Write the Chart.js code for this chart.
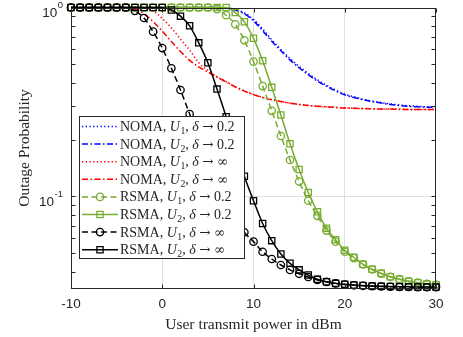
<!DOCTYPE html>
<html><head><meta charset="utf-8">
<script src="https://cdn.jsdelivr.net/npm/chart.js@4.4.1/dist/chart.umd.min.js"></script>
<style>html,body{margin:0;padding:0;background:#fff;}#wrap{width:463px;height:337px;}</style>
</head><body><div id="wrap"><canvas id="c" width="463" height="337"></canvas></div>
<script>
// ---------- data ----------
const powerDbm = [-10,-9,-8,-7,-6,-5,-4,-3,-2,-1,0,1,2,3,4,5,6,7,8,9,10,11,12,13,14,15,16,17,18,19,20,21,22,23,24,25,26,27,28,29,30];

const nomaU1Delta02 = [1,1,1,1,1,1,1,1,1,1,1,1,1,1,1,1,1,
  0.995,0.978,0.935,0.865,0.77,0.675,0.6,0.537,0.488,0.448,0.414,0.388,0.366,0.348,0.337,0.327,0.32,0.314,0.309,0.305,0.302,0.3,0.298,0.297];
const nomaU2Delta02 = [1,1,1,1,1,1,1,1,1,1,1,1,1,1,1,1,1,
  0.99,0.97,0.925,0.85,0.755,0.662,0.59,0.528,0.48,0.441,0.408,0.383,0.362,0.345,0.334,0.325,0.318,0.312,0.307,0.303,0.3,0.298,0.297,0.296];
const nomaU1Inf = [1,1,1,1,1,1,1,1,
  0.995,0.96,0.875,0.78,0.68,0.595,0.51,0.465,0.43,0.405,0.381,0.362,0.347,0.335,0.326,0.318,0.312,0.307,0.303,0.3,0.298,0.296,0.294,0.293,0.292,0.291,0.29,0.29,0.29,0.289,0.289,0.289,0.289];
const nomaU2Inf = [1,1,1,1,1,1,1,
  0.975,0.925,0.84,0.75,0.66,0.585,0.525,0.485,0.455,0.428,0.404,0.38,0.361,0.346,0.334,0.325,0.318,0.312,0.307,0.303,0.3,0.298,0.296,0.294,0.293,0.292,0.291,0.29,0.29,0.289,0.289,0.289,0.289,0.289];
const rsmaU1Delta02 = [1,1,1,1,1,1,1,1,1,1,1,1,1,1,1,1,
  0.98,0.91,0.815,0.67,0.517,0.384,0.284,0.209,0.156,0.12,0.095,0.079,0.066,0.0577,0.051,0.0472,0.0437,0.0411,0.0391,0.0376,0.0365,0.0356,0.035,0.0345,0.0341];
const rsmaU2Delta02 = [1,1,1,1,1,1,1,1,1,1,1,1,1,1,1,1,1,1,
  0.94,0.84,0.687,0.523,0.378,0.27,0.19,0.139,0.105,0.083,0.068,0.059,0.052,0.0477,0.0438,0.0412,0.0392,0.0376,0.0365,0.0356,0.035,0.0344,0.0341];
const rsmaU1Inf = [1,1,1,1,1,1,1,
  0.96,0.88,0.745,0.61,0.477,0.366,0.273,0.205,0.155,0.1205,0.0957,0.0778,0.0647,0.0577,0.051,0.0467,0.0434,0.0409,0.039,0.0375,0.0362,0.0353,0.0347,0.0342,0.0339,0.0337,0.0335,0.0334,0.0333,0.0332,0.0332,0.0331,0.0331,0.0331];
const rsmaU2Inf = [1,1,1,1,1,1,1,1,1,1,1,
  0.97,0.9,0.8,0.65,0.51,0.37,0.264,0.183,0.128,0.095,0.072,0.0584,0.0496,0.0443,0.0409,0.0384,0.0365,0.0354,0.0347,0.0343,0.034,0.0338,0.0336,0.0335,0.0334,0.0333,0.0333,0.0332,0.0332,0.0332];

const seriesLabels = [
  'NOMA, U1, δ → 0.2', 'NOMA, U2, δ → 0.2', 'NOMA, U1, δ → ∞', 'NOMA, U2, δ → ∞',
  'RSMA, U1, δ → 0.2', 'RSMA, U2, δ → 0.2', 'RSMA, U1, δ → ∞', 'RSMA, U2, δ → ∞'
];
const xTickValues = [-10, 0, 10, 20, 30];
const yMajorTicks = [0.1, 1];
const yMinorTicks = [0.04,0.05,0.06,0.07,0.08,0.09,0.2,0.3,0.4,0.5,0.6,0.7,0.8,0.9];
const yTickBase = ['10', '10'];
const yTickExp = ['-1', '0'];
const xTitle = 'User transmit power in dBm';
const yTitle = 'Outage Probability';

// ---------- styles ----------
const BLUE = '#0000ff', RED = '#ff0000', GREEN = '#77ac30', BLACK = '#000000';
const AXIS = '#262626', GRID = '#dfdfdf';
const DOT = [1.3, 2.4], DASHDOT = [6, 2.5, 1.5, 2.5], DASH = [6, 3.5];
const styles = [
  {c: BLUE, dash: DOT, ps: false},
  {c: BLUE, dash: DASHDOT, ps: false},
  {c: RED, dash: DOT, ps: false},
  {c: RED, dash: DASHDOT, ps: false},
  {c: GREEN, dash: DASH, ps: 'circle'},
  {c: GREEN, dash: [], ps: 'rect'},
  {c: BLACK, dash: DASH, ps: 'circle'},
  {c: BLACK, dash: [], ps: 'rect'}
];
const seriesValues = [nomaU1Delta02, nomaU2Delta02, nomaU1Inf, nomaU2Inf, rsmaU1Delta02, rsmaU2Delta02, rsmaU1Inf, rsmaU2Inf];

const datasets = seriesValues.map((vals, i) => {
  const s = styles[i];
  return {
    label: seriesLabels[i],
    data: powerDbm.map((x, k) => ({x: x, y: vals[k]})),
    borderColor: s.c,
    borderWidth: 1.5,
    borderDash: s.dash,
    borderCapStyle: 'butt',
    pointStyle: s.ps || 'circle',
    pointRadius: s.ps ? (s.ps === 'rect' ? 4.4 : 3.7) : 0,
    pointHoverRadius: 0,
    pointBorderWidth: 1.3,
    pointBorderColor: s.c,
    pointBackgroundColor: 'rgba(0,0,0,0)',
    cubicInterpolationMode: 'monotone',
    fill: false,
    clip: false,
    order: 8 - i
  };
});

function seg(ctx, x1, y1, x2, y2) { ctx.beginPath(); ctx.moveTo(x1, y1); ctx.lineTo(x2, y2); ctx.stroke(); }

const SERIF = '"Liberation Serif", "Times New Roman", serif';
const SYMF = '"DejaVu Serif", serif';
const SANS = '"Liberation Sans", Arial, sans-serif';

function drawMathText(ctx, text, x, y, size) {
  const parts = text.split(/(U\d|δ|→|∞)/);
  let cx = x;
  ctx.textBaseline = 'alphabetic';
  ctx.textAlign = 'left';
  parts.forEach(p => {
    if (!p) return;
    if (/^U\d$/.test(p)) {
      ctx.font = 'italic ' + size + 'px ' + SERIF;
      ctx.fillText('U', cx, y); cx += ctx.measureText('U').width;
      ctx.font = (size * 0.7) + 'px ' + SERIF;
      ctx.fillText(p[1], cx + 0.5, y + 3); cx += ctx.measureText(p[1]).width + 0.5;
    } else if (p === 'δ') {
      ctx.font = 'italic ' + size + 'px ' + SERIF;
      ctx.fillText(p, cx, y); cx += ctx.measureText(p).width;
    } else if (p === '→' || p === '∞') {
      ctx.font = (size - 0.5) + 'px ' + SYMF;
      ctx.fillText(p, cx, y); cx += ctx.measureText(p).width;
    } else {
      ctx.font = size + 'px ' + SERIF;
      ctx.fillText(p, cx, y); cx += ctx.measureText(p).width;
    }
  });
}

const matlabPlugin = {
  id: 'matlabAxes',
  afterDatasetsDraw(chart) {
    const {ctx, chartArea: a, scales: {x, y}} = chart;
    ctx.save();
    ctx.setLineDash([]);
    ctx.strokeStyle = AXIS; ctx.lineWidth = 1;
    const L = Math.round(a.left) + 0.5, R = Math.round(a.right) - 0.5, T = Math.round(a.top) + 0.5, B = Math.round(a.bottom) - 0.5;
    // ticks (inward)
    xTickValues.forEach(v => {
      const px = Math.round(x.getPixelForValue(v)) + 0.5;
      seg(ctx, px, B, px, B - 4); seg(ctx, px, T, px, T + 4);
    });
    yMajorTicks.concat(yMinorTicks).forEach(v => {
      const py = Math.round(y.getPixelForValue(v)) + 0.5;
      seg(ctx, L, py, L + 4, py); seg(ctx, R, py, R - 4, py);
    });
    ctx.strokeRect(L, T, R - L, B - T);
    // y tick labels
    ctx.fillStyle = AXIS;
    ctx.textAlign = 'right'; ctx.textBaseline = 'middle';
    yMajorTicks.forEach((v, i) => {
      const py = y.getPixelForValue(v);
      ctx.font = '9.5px ' + SANS;
      const ew = ctx.measureText(yTickExp[i]).width;
      ctx.fillText(yTickExp[i], a.left - 8, py - 2);
      ctx.font = '13.5px ' + SANS;
      ctx.fillText(yTickBase[i], a.left - 8 - ew - 0.5, py + 5.5);
    });
    // legend
    const lx = 79.5, ly = 116.5, lw = 165, lh = 142;
    ctx.fillStyle = '#ffffff';
    ctx.fillRect(lx, ly, lw, lh);
    ctx.strokeStyle = AXIS; ctx.lineWidth = 1;
    ctx.strokeRect(lx, ly, lw, lh);
    chart.data.datasets.forEach((ds, i) => {
      const ry = 126.5 + i * 17.6;
      ctx.save();
      ctx.strokeStyle = ds.borderColor; ctx.lineWidth = ds.borderWidth;
      ctx.setLineDash(ds.borderDash || []);
      ctx.lineDashOffset = 0;
      seg(ctx, 82, ry, 118, ry);
      ctx.setLineDash([]);
      if (ds.pointRadius > 0) {
        ctx.lineWidth = ds.pointBorderWidth;
        ctx.strokeStyle = ds.pointBorderColor;
        ctx.fillStyle = 'rgba(0,0,0,0)';
        Chart.helpers.drawPoint(ctx, {pointStyle: ds.pointStyle, radius: ds.pointRadius, borderWidth: ds.pointBorderWidth, rotation: 0}, 100, ry);
      }
      ctx.restore();
      ctx.fillStyle = AXIS;
      drawMathText(ctx, ds.label, 120, ry + 4.5, 14);
    });
    ctx.restore();
  }
};

new Chart(document.getElementById('c'), {
  type: 'line',
  data: {datasets: datasets},
  plugins: [matlabPlugin],
  options: {
    responsive: false,
    devicePixelRatio: 1,
    animation: false,
    events: [],
    layout: {padding: {top: 7.5, right: 27, bottom: 0, left: 0}},
    plugins: {legend: {display: false}, tooltip: {enabled: false}},
    scales: {
      x: {
        type: 'linear', min: -10, max: 30,
        afterFit: s => { s.height = 48.5; },
        afterBuildTicks: s => { s.ticks = xTickValues.map(v => ({value: v})); },
        ticks: {font: {family: SANS, size: 13.5}, color: AXIS, padding: 8, maxRotation: 0,
          callback: v => String(v)},
        grid: {drawTicks: false, lineWidth: 1,
          color: c => (c.tick && c.tick.value > -10 && c.tick.value < 30) ? GRID : 'rgba(0,0,0,0)'},
        border: {display: false},
        title: {display: true, text: xTitle, color: AXIS, font: {family: SERIF, size: 15.5}, padding: {top: 0, bottom: 3}}
      },
      y: {
        type: 'logarithmic', min: 0.0326, max: 1,
        afterFit: s => { s.width = 71; },
        afterBuildTicks: s => { s.ticks = yMajorTicks.map(v => ({value: v})); },
        ticks: {display: false},
        grid: {drawTicks: false, lineWidth: 1,
          color: c => (c.tick && Math.abs(c.tick.value - 0.1) < 1e-9) ? GRID : 'rgba(0,0,0,0)'},
        border: {display: false},
        title: {display: true, text: yTitle, color: AXIS, font: {family: SERIF, size: 15.5}, padding: {top: 16, bottom: 0}}
      }
    }
  }
});
</script></body></html>
